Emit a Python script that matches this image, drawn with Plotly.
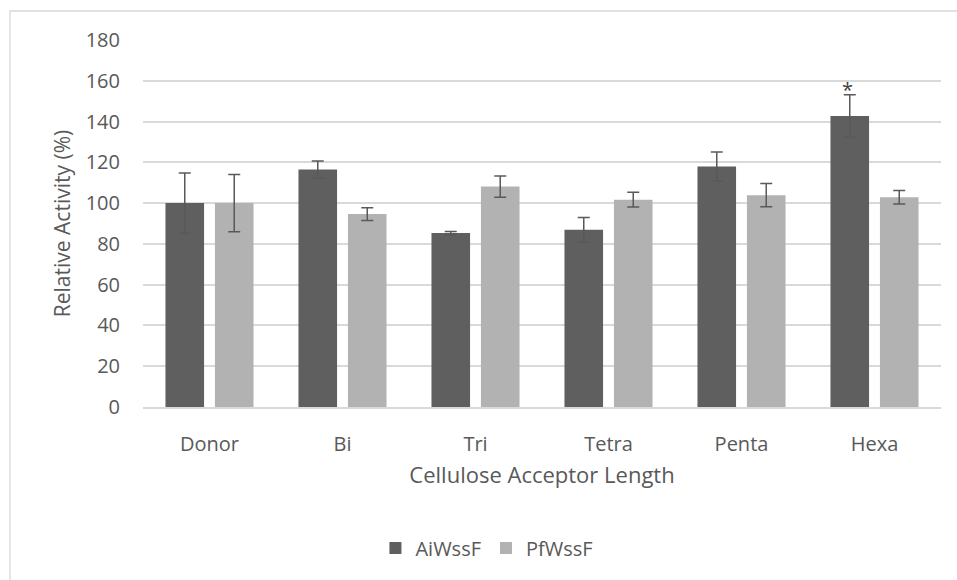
import plotly.graph_objects as go

categories = ["Donor", "Bi", "Tri", "Tetra", "Penta", "Hexa"]
ai_values = [100, 116.5, 85.3, 86.9, 118.0, 142.7]
ai_errors = [14.8, 4.2, 0.8, 6.0, 7.1, 10.4]
pf_values = [100, 94.6, 108.1, 101.7, 103.9, 102.9]
pf_errors = [14.0, 3.1, 5.2, 3.6, 5.7, 3.3]
y_ticks = [0, 20, 40, 60, 80, 100, 120, 140, 160, 180]

TXT = "#595959"
GRID = "#d9d9d9"
FONT = "Open Sans, Segoe UI, sans-serif"

fig = go.Figure()
fig.add_trace(go.Bar(
    name="AiWssF", x=categories, y=ai_values,
    marker=dict(color="#5f5f5f", line=dict(width=0)),
    error_y=dict(type="data", array=ai_errors, color="#595959", thickness=1.5, width=6),
))
fig.add_trace(go.Bar(
    name="PfWssF", x=categories, y=pf_values,
    marker=dict(color="#b2b2b2", line=dict(width=0)),
    error_y=dict(type="data", array=pf_errors, color="#595959", thickness=1.5, width=6),
))

# significance marker above Hexa AiWssF bar
fig.add_annotation(x="Hexa", y=ai_values[5] + ai_errors[5], text="*", showarrow=False,
                   xshift=-27.5, yshift=-10, yanchor="bottom",
                   font=dict(size=20, color="#404040", family=FONT))

# chart frame
fig.add_shape(type="rect", xref="paper", yref="paper",
              x0=-0.1667, x1=1.05, y0=-0.6, y1=1.079,
              line=dict(color=GRID, width=1.3), layer="below")

fig.update_layout(
    width=957, height=580,
    margin=dict(l=143, r=16, t=40, b=173),
    paper_bgcolor="white", plot_bgcolor="white",
    barmode="group", bargap=0.256, bargroupgap=0.22,
    font=dict(family=FONT, size=20, color=TXT),
    showlegend=True,
    legend=dict(orientation="h", x=0.431, xanchor="center", y=-0.384, yanchor="middle",
                font=dict(size=20, color=TXT), itemwidth=30, bgcolor="rgba(0,0,0,0)"),
    xaxis=dict(
        title=dict(text="Cellulose Acceptor Length", font=dict(size=22, color=TXT), standoff=12),
        showline=True, linecolor=GRID, linewidth=1.5, ticks="", showgrid=False,
        ticklabelstandoff=18, tickfont=dict(size=20, color=TXT),
    ),
    yaxis=dict(
        title=dict(text="Relative Activity (%)", font=dict(size=21, color=TXT), standoff=9),
        range=[0, 180], tickvals=y_ticks, ticks="", showline=False,
        showgrid=True, gridcolor=GRID, gridwidth=1.5, zeroline=False,
        ticklabelstandoff=22, tickfont=dict(size=20, color=TXT),
    ),
)

fig.write_html("out.html")
